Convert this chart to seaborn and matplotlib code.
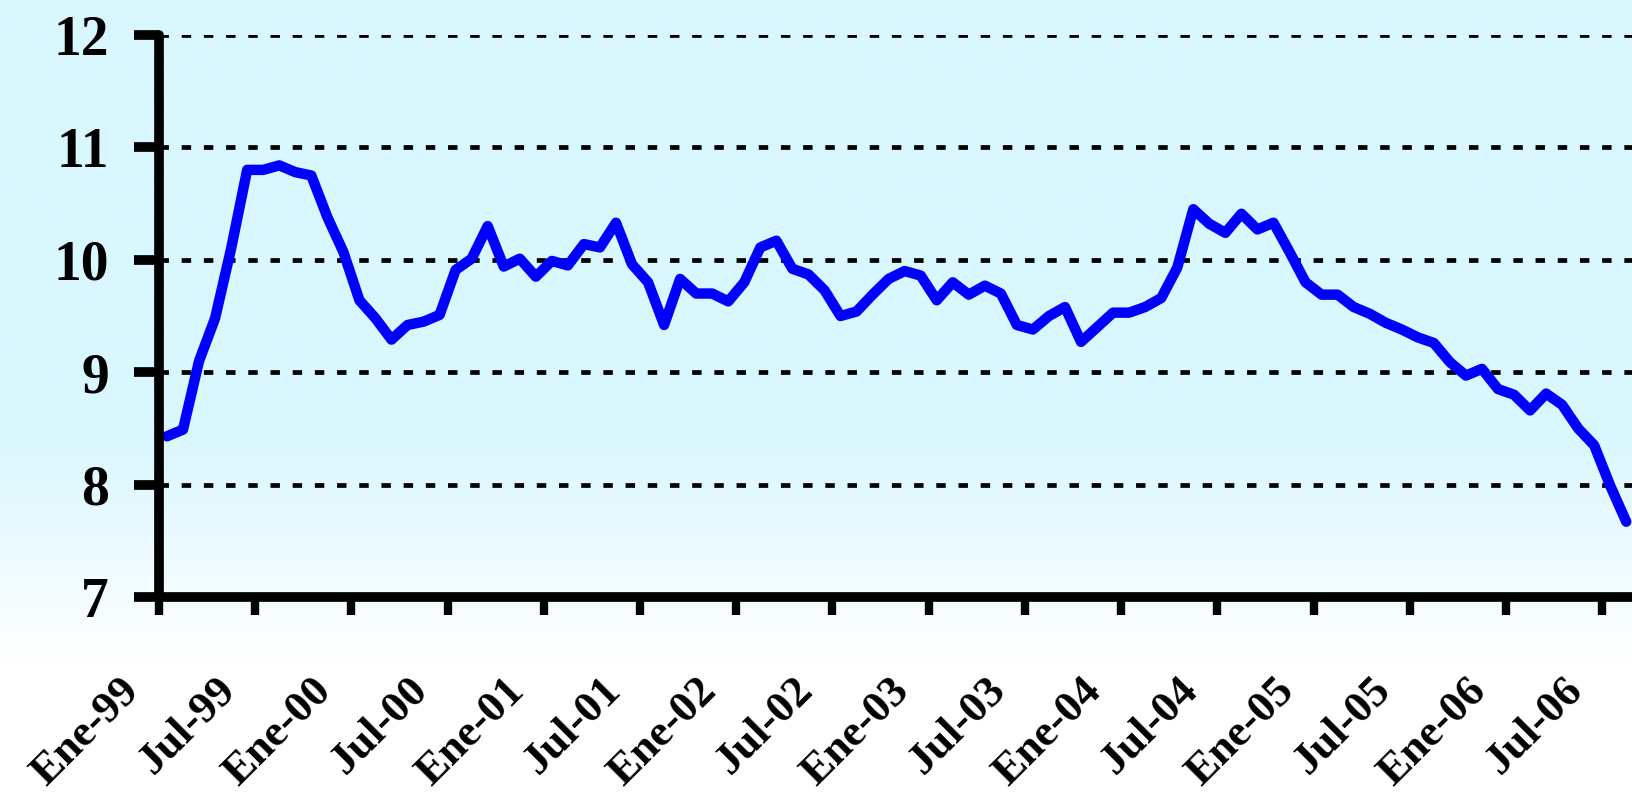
import numpy as np
import pandas as pd
import seaborn as sns
import matplotlib
matplotlib.use("Agg")
import matplotlib.pyplot as plt
from matplotlib.transforms import ScaledTranslation

# monthly values, Ene-99 .. Ago-06
values = [8.43, 8.49, 9.10, 9.48, 10.10, 10.80, 10.80, 10.84, 10.78, 10.75,
          10.38, 10.07, 9.64, 9.48, 9.29, 9.42, 9.45, 9.51, 9.91, 10.01,
          10.30, 9.94, 10.01, 9.85, 9.99, 9.95, 10.14, 10.11, 10.33, 9.96,
          9.80, 9.42, 9.83, 9.70, 9.70, 9.63, 9.80, 10.11, 10.17, 9.92,
          9.87, 9.73, 9.50, 9.54, 9.69, 9.83, 9.90, 9.86, 9.64, 9.80,
          9.69, 9.77, 9.70, 9.42, 9.38, 9.50, 9.58, 9.27, 9.40, 9.53,
          9.53, 9.58, 9.66, 9.93, 10.45, 10.32, 10.24, 10.41, 10.27, 10.33,
          10.07, 9.80, 9.69, 9.69, 9.58, 9.52, 9.44, 9.38, 9.31, 9.26,
          9.09, 8.97, 9.03, 8.85, 8.80, 8.66, 8.81, 8.71, 8.50, 8.35,
          7.99, 7.67]
tick_labels = ["Ene-99", "Jul-99", "Ene-00", "Jul-00", "Ene-01", "Jul-01",
               "Ene-02", "Jul-02", "Ene-03", "Jul-03", "Ene-04", "Jul-04",
               "Ene-05", "Jul-05", "Ene-06", "Jul-06"]
y_ticks = [7, 8, 9, 10, 11, 12]

df = pd.DataFrame({"mes": np.arange(len(values)) + 0.5, "valor": values})

sns.set_style("white")
plt.rcParams["font.family"] = ["Liberation Serif", "DejaVu Serif"]
plt.rcParams["text.color"] = "black"
plt.rcParams["xtick.color"] = "black"
plt.rcParams["ytick.color"] = "black"

fig = plt.figure(figsize=(16.32, 7.95), dpi=100)

# background gradient: light cyan on top fading to white at the bottom
bg = fig.add_axes([0, 0, 1, 1], zorder=0)
h = np.linspace(0, 1, 400)  # 0 = top, 1 = bottom
t = np.clip((h - 0.55) / 0.28, 0, 1)
top = np.array([217, 247, 254]) / 255
rgb = top[None, :] * (1 - t[:, None]) + np.ones(3)[None, :] * t[:, None]
bg.imshow(np.repeat(rgb[:, None, :], 2, axis=1), aspect="auto",
          extent=[0, 1, 0, 1])
bg.set_axis_off()

ax = fig.add_axes([0.0974, 0.249, 0.904, 0.707], zorder=1)
ax.patch.set_alpha(0)

for yv in y_ticks[1:]:
    ax.axhline(yv, color="black", lw=3.4, dashes=(2.0, 2.7), zorder=1)

sns.lineplot(data=df, x="mes", y="valor", ax=ax, color="#0000ff", lw=7.5,
             solid_joinstyle="round", solid_capstyle="round", zorder=3)

ax.set_xlim(0, 92)
ax.set_ylim(7, 12)
ax.set_xlabel("")
ax.set_ylabel("")

ax.set_yticks(y_ticks)
ax.set_yticklabels([str(v) for v in y_ticks], fontsize=40, fontweight="bold")
ax.set_xticks(np.arange(len(tick_labels)) * 6)
ax.set_xticklabels(tick_labels, fontsize=32, fontweight="bold", rotation=45,
                   ha="right", va="center", rotation_mode="anchor")
ax.tick_params(axis="y", left=True, length=18, width=7, pad=18)
ax.tick_params(axis="x", bottom=True, length=13, width=6, pad=50)

off = ScaledTranslation(-26 / 100, 0, fig.dpi_scale_trans)
for lab in ax.get_xticklabels():
    lab.set_transform(lab.get_transform() + off)

sns.despine(ax=ax, top=True, right=True)
for side in ["left", "bottom"]:
    ax.spines[side].set_linewidth(7)
    ax.spines[side].set_color("black")
    ax.spines[side].set_capstyle("round")
    ax.spines[side].set_zorder(4)

fig.savefig("out.png", dpi=100)
